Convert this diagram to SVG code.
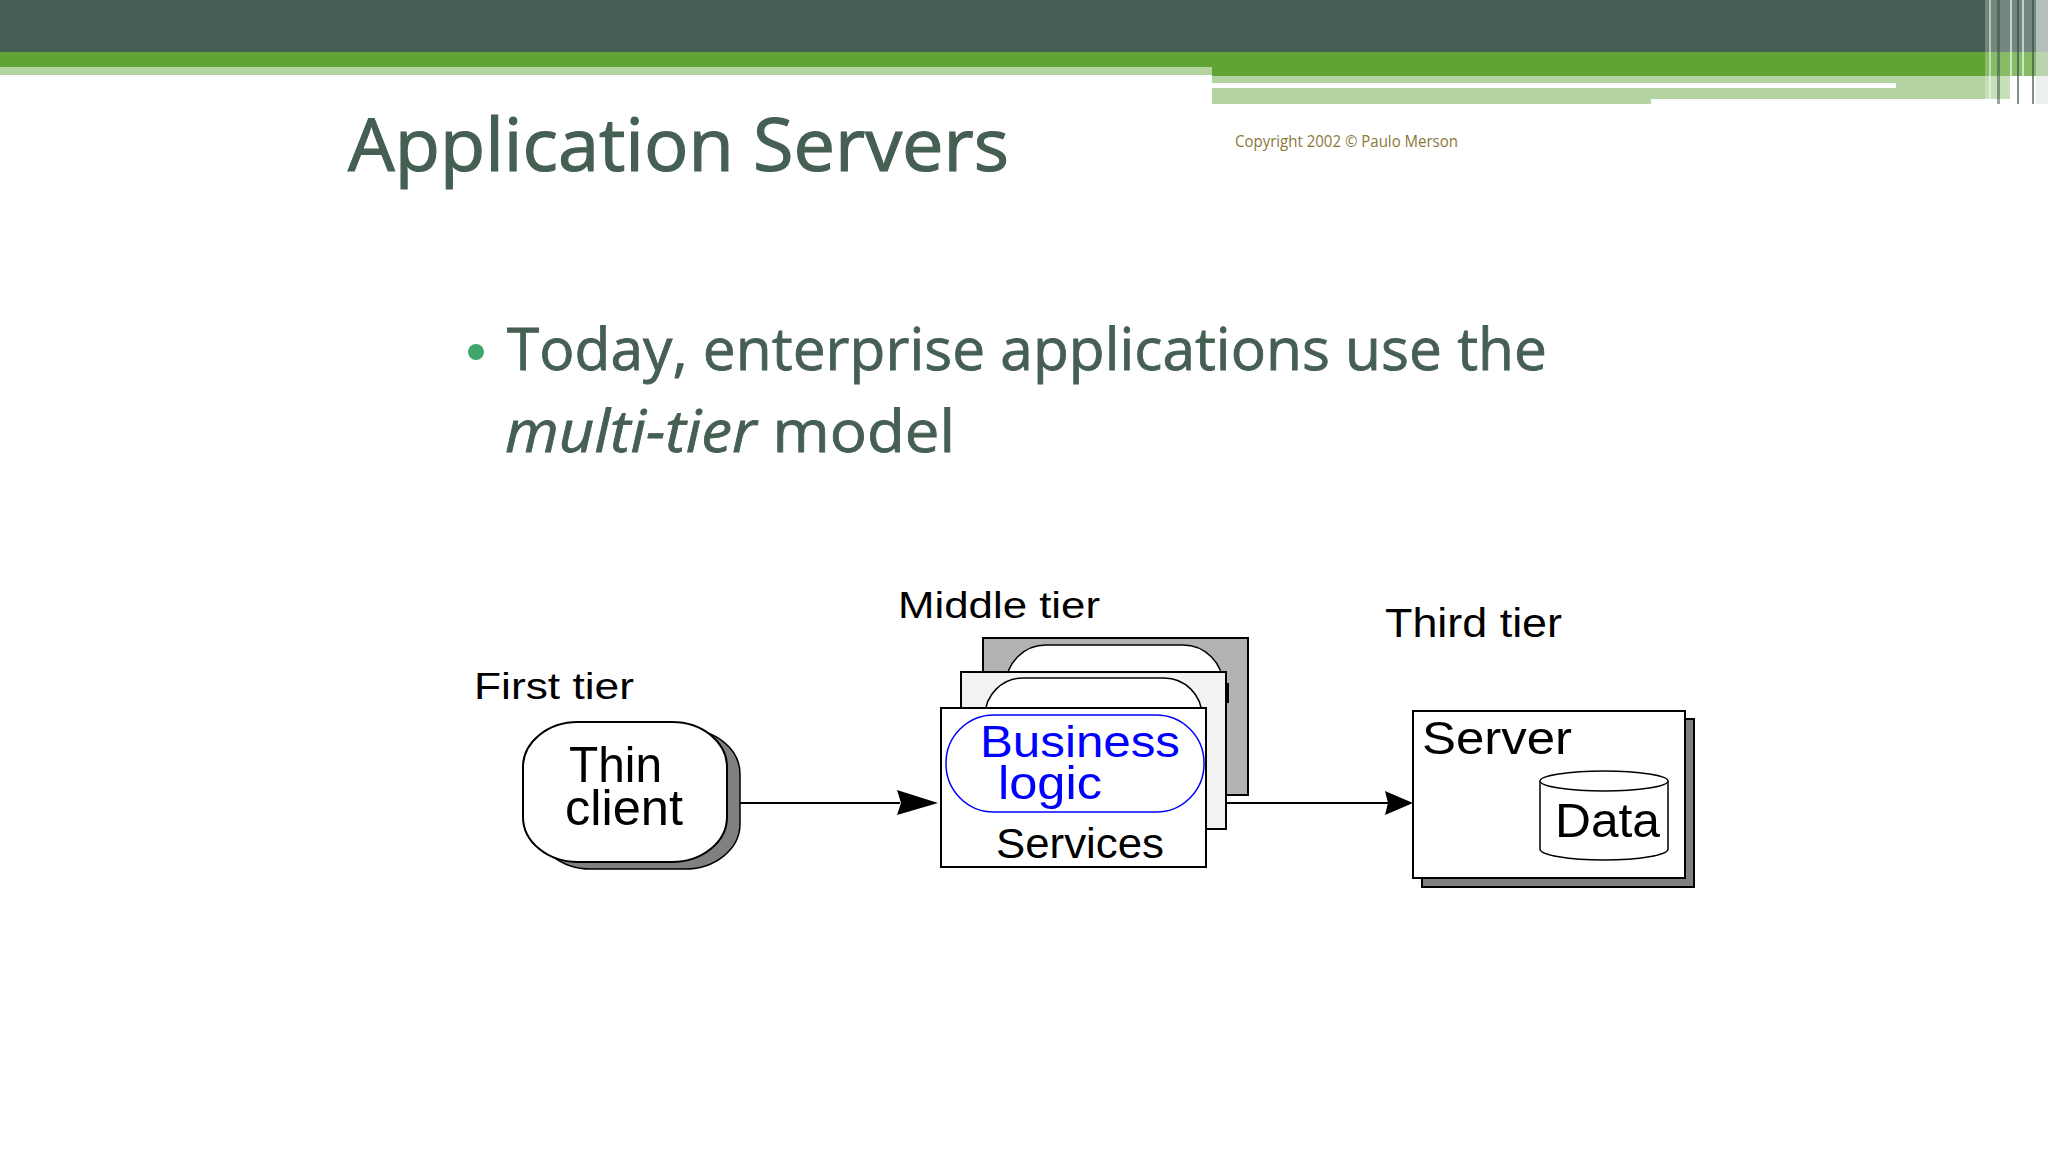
<svg xmlns="http://www.w3.org/2000/svg" width="2048" height="1152" viewBox="0 0 2048 1152">
<style>
.slide{font-family:"Open Sans","Noto Sans","Liberation Sans",sans-serif;fill:#455f53;stroke:#455f53}
.dg{font-family:"Liberation Sans",Arial,sans-serif;fill:#000}
.box{stroke:#000;stroke-width:2}
.thin{stroke:#000;stroke-width:1.5}
.conn{stroke:#000;stroke-width:2;fill:none}
.head{fill:#000}
</style>
<rect width="2048" height="1152" fill="#ffffff"/>
<g id="banner">
<rect x="0" y="0" width="2048" height="52" fill="#465f54"/>
<rect x="0" y="52" width="2048" height="15" fill="#61a436"/>
<rect x="1212" y="67" width="836" height="9" fill="#61a436"/>
<rect x="0" y="67" width="1212" height="8" fill="#b3d4a0"/>
<rect x="1212" y="76" width="798" height="28" fill="#b3d4a0"/>
<rect x="1212" y="83" width="684" height="5" fill="#ffffff"/>
<rect x="1651" y="99" width="360" height="5" fill="#ffffff"/>
<rect x="1985" y="0" width="63" height="104" fill="#ffffff" opacity="0.25"/>
<rect x="1989" y="0" width="2" height="104" fill="#ffffff" opacity="0.5"/>
<rect x="1997" y="0" width="3" height="104" fill="#2d4a3c" opacity="0.5"/>
<rect x="2010" y="0" width="2" height="104" fill="#ffffff" opacity="0.6"/>
<rect x="2017" y="0" width="2" height="104" fill="#2d4a3c" opacity="0.6"/>
<rect x="2022" y="0" width="2" height="104" fill="#ffffff" opacity="0.6"/>
<rect x="2032" y="0" width="2" height="104" fill="#2d4a3c" opacity="0.6"/>
<rect x="2036" y="0" width="12" height="104" fill="#dfe6e2" opacity="0.6"/>
</g>
<text class="slide" x="348" y="171" font-size="74" stroke-width="1.2" textLength="661" lengthAdjust="spacingAndGlyphs">Application Servers</text>
<text x="1235" y="147" font-family="'Open Sans','Noto Sans',sans-serif" font-size="16" fill="#8a7838" textLength="223" lengthAdjust="spacingAndGlyphs">Copyright 2002 © Paulo Merson</text>
<circle cx="476" cy="352" r="8" fill="#3fa66e"/>
<text class="slide" x="507" y="370" font-size="58" stroke-width="0.8" textLength="1040" lengthAdjust="spacingAndGlyphs">Today, enterprise applications use the</text>
<text class="slide" x="505" y="452" font-size="58" stroke-width="0.8" textLength="450" lengthAdjust="spacingAndGlyphs"><tspan font-style="italic">multi-tier</tspan> model</text>

<g id="connectors">
<line class="conn" x1="708" y1="803" x2="900" y2="803"/>
<polygon class="head" points="897,790 938,803 897,815 901,803"/>
<line class="conn" x1="1226" y1="803" x2="1388" y2="803"/>
<polygon class="head" points="1385,791 1413,803 1385,815 1388,803"/>
</g>

<g id="first-tier">
<text class="dg" x="474" y="699" font-size="36" textLength="160" lengthAdjust="spacingAndGlyphs">First tier</text>
</g>
<g id="thin-client">
<rect x="536" y="729" width="204" height="140" rx="55" ry="45" fill="#808080" class="thin"/>
<rect x="523" y="722" width="204" height="140" rx="55" ry="45" fill="#ffffff" class="box"/>
<text class="dg" x="569" y="782" font-size="50" textLength="93" lengthAdjust="spacingAndGlyphs">Thin</text>
<text class="dg" x="565" y="825" font-size="50" textLength="118" lengthAdjust="spacingAndGlyphs">client</text>
</g>

<g id="middle-tier-label">
<text class="dg" x="898" y="618" font-size="36" textLength="202" lengthAdjust="spacingAndGlyphs">Middle tier</text>
</g>
<g id="middle-tier">
<rect x="983" y="638" width="265" height="157" fill="#b3b3b3" class="box"/>
<rect x="1006" y="645" width="217" height="130" rx="40" ry="40" fill="#ffffff" class="thin"/>
<rect x="1226" y="683" width="3" height="20" fill="#000"/>
<rect x="961" y="672" width="265" height="157" fill="#f2f2f2" class="box"/>
<rect x="985" y="678" width="217" height="130" rx="38" ry="38" fill="#ffffff" class="thin"/>
<rect x="941" y="708" width="265" height="159" fill="#ffffff" class="box"/>
<rect x="946" y="715" width="258" height="97" rx="48" ry="48" fill="none" stroke="#0000ff" stroke-width="1.5"/>
<text class="dg" x="980" y="757" font-size="44" style="fill:#0000ff" textLength="200" lengthAdjust="spacingAndGlyphs">Business</text>
<text class="dg" x="998" y="799" font-size="46" style="fill:#0000ff" textLength="104" lengthAdjust="spacingAndGlyphs">logic</text>
<text class="dg" x="996" y="858" font-size="43" textLength="168" lengthAdjust="spacingAndGlyphs">Services</text>
</g>

<g id="third-tier-label">
<text class="dg" x="1385" y="637" font-size="40" textLength="177" lengthAdjust="spacingAndGlyphs">Third tier</text>
</g>
<g id="server">
<rect x="1422" y="719" width="272" height="168" fill="#808080" class="box"/>
<rect x="1413" y="711" width="272" height="167" fill="#ffffff" class="box"/>
<text class="dg" x="1422" y="754" font-size="47" textLength="150" lengthAdjust="spacingAndGlyphs">Server</text>
</g>
<g id="data">
<path d="M1540,781 L1540,849 A64,11 0 0 0 1668,849 L1668,781" fill="#ffffff" class="thin"/>
<ellipse cx="1604" cy="781" rx="64" ry="10" fill="#ffffff" class="thin"/>
<text class="dg" x="1555" y="837" font-size="49" textLength="105" lengthAdjust="spacingAndGlyphs">Data</text>
</g>
</svg>
